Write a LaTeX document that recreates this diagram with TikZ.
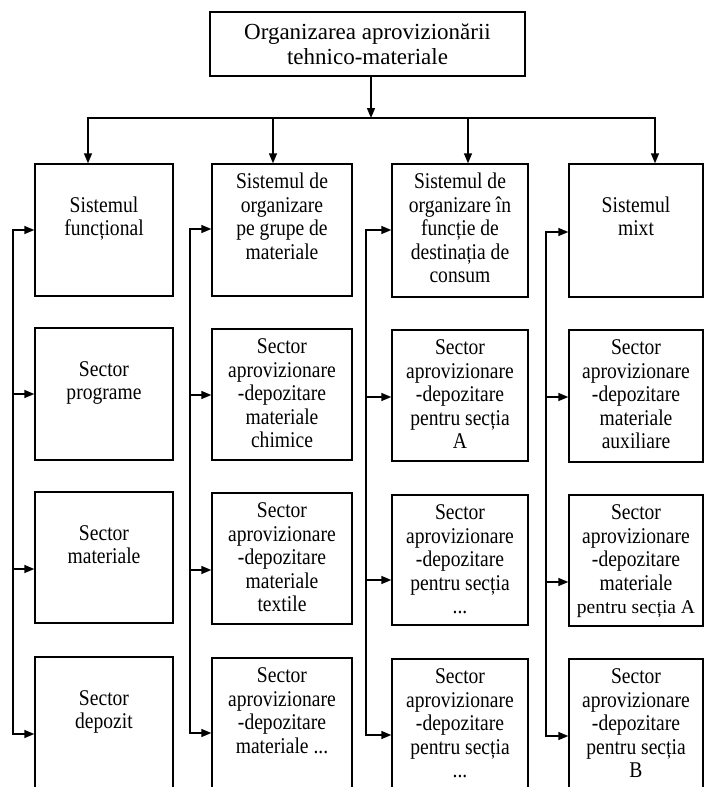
\documentclass[tikz,border=0pt]{standalone}
\usepackage{fontspec}
\setmainfont{Liberation Serif}[FakeStretch=0.87]
\newfontfamily\plainserif{Liberation Serif}
\usetikzlibrary{arrows.meta}

% one box of a column: #1 name, #2 centre x, #3 top, #4 bottom, #5 width,
% #6 gap above the first text line, #7 text
\newcommand{\orgcell}[7]{%
  \node[box, minimum width=#5pt, minimum height={#4pt-#3pt}] (#1) at (#2,{(#3+#4)/2}) {};
  \node[txt] (#1-t) at ([yshift=-#6pt]#1.north) {\strut #7};
}
% vertical feeder of a column: #1 column index, #2 x, #3..#6 arrow heights
\newcommand{\feeder}[6]{%
  \coordinate (v#1a) at (#2,#3);
  \coordinate (v#1b) at (#2,#4);
  \coordinate (v#1c) at (#2,#5);
  \coordinate (v#1d) at (#2,#6);
  \draw[arr] (v#1d) -- (v#1a) -- (v#1a -| c#11.west);
  \draw[arr] (v#1b) -- (v#1b -| c#12.west);
  \draw[arr] (v#1c) -- (v#1c -| c#13.west);
  \draw[arr] (v#1a) -- (v#1d) -- (v#1d -| c#14.west);
}

\begin{document}
\begin{tikzpicture}[x=1pt,y=-1pt,
  box/.style={draw, rectangle, line width=1.4pt, inner sep=0pt},
  txt/.style={anchor=north, align=center, inner sep=0pt,
              font=\fontsize{22.5}{23.5}\selectfont},
  arr/.style={line width=1.4pt, -{Triangle[length=10pt,width=8pt]}}]
\useasboundingbox (0,0) rectangle (705,787);
\clip (0,0) rectangle (705,787);
\fill[white] (0,0) rectangle (705,787);

% root
\node[box, minimum width=315pt, minimum height=64pt, align=center,
      font=\plainserif\fontsize{23}{25}\selectfont] (root) at (367.5,44)
      {Organizarea aprovizionării\\tehnico-materiale};

% column 1
\orgcell{c11}{104}{164}{296}{138}{32.5}{Sistemul\\funcțional}
\orgcell{c12}{104}{328}{460}{138}{32.5}{Sector\\programe}
\orgcell{c13}{104}{492}{623}{138}{32.5}{Sector\\materiale}
\orgcell{c14}{104}{657}{820}{138}{32.5}{Sector\\depozit}

% column 2
\orgcell{c21}{282}{164}{296}{140}{9}{Sistemul de\\organizare\\pe grupe de\\materiale}
\orgcell{c22}{282}{329}{460}{140}{9}{Sector\\aprovizionare\\-depozitare\\materiale\\chimice}
\orgcell{c23}{282}{493}{624}{140}{9}{Sector\\aprovizionare\\-depozitare\\materiale\\textile}
\orgcell{c24}{282}{658}{820}{140}{9}{Sector\\aprovizionare\\-depozitare\\materiale ...}

% column 3
\orgcell{c31}{460}{164}{297}{136}{9}{Sistemul de\\organizare în\\funcție de\\destinația de\\consum}
\orgcell{c32}{460}{330}{461}{136}{9}{Sector\\aprovizionare\\-depozitare\\pentru secția\\A}
\orgcell{c33}{460}{495}{625}{136}{9}{Sector\\aprovizionare\\-depozitare\\pentru secția\\...}
\orgcell{c34}{460}{659}{820}{136}{9}{Sector\\aprovizionare\\-depozitare\\pentru secția\\...}

% column 4
\orgcell{c41}{636}{164}{297}{134}{32.5}{Sistemul\\mixt}
\orgcell{c42}{636}{330}{462}{134}{9}{Sector\\aprovizionare\\-depozitare\\materiale\\auxiliare}
\orgcell{c43}{636}{495}{626}{134}{9}{Sector\\aprovizionare\\-depozitare\\materiale\\{\plainserif\fontsize{19.5}{23.5}\selectfont pentru secția A}}
\orgcell{c44}{636}{659}{820}{134}{9}{Sector\\aprovizionare\\-depozitare\\pentru secția\\B}

% distribution from the root
\coordinate (rootdrop) at (371,118);
\coordinate (d1) at (88,118);
\coordinate (d2) at (273,118);
\coordinate (d3) at (468,118);
\coordinate (d4) at (655,118);
\draw[arr] (root.south -| rootdrop) -- (rootdrop);
\draw[arr] (d4) -- (d1) -- (d1 |- c11.north);
\draw[arr] (d1) -- (d4) -- (d4 |- c41.north);
\draw[arr] (d2) -- (d2 |- c21.north);
\draw[arr] (d3) -- (d3 |- c31.north);

% feeders along the left of each column
\feeder{1}{13}{230}{394}{569}{734}
\feeder{2}{190}{229}{395}{570}{733}
\feeder{3}{366}{230}{397}{580}{735}
\feeder{4}{546}{232}{397}{582}{736}
\end{tikzpicture}
\end{document}
